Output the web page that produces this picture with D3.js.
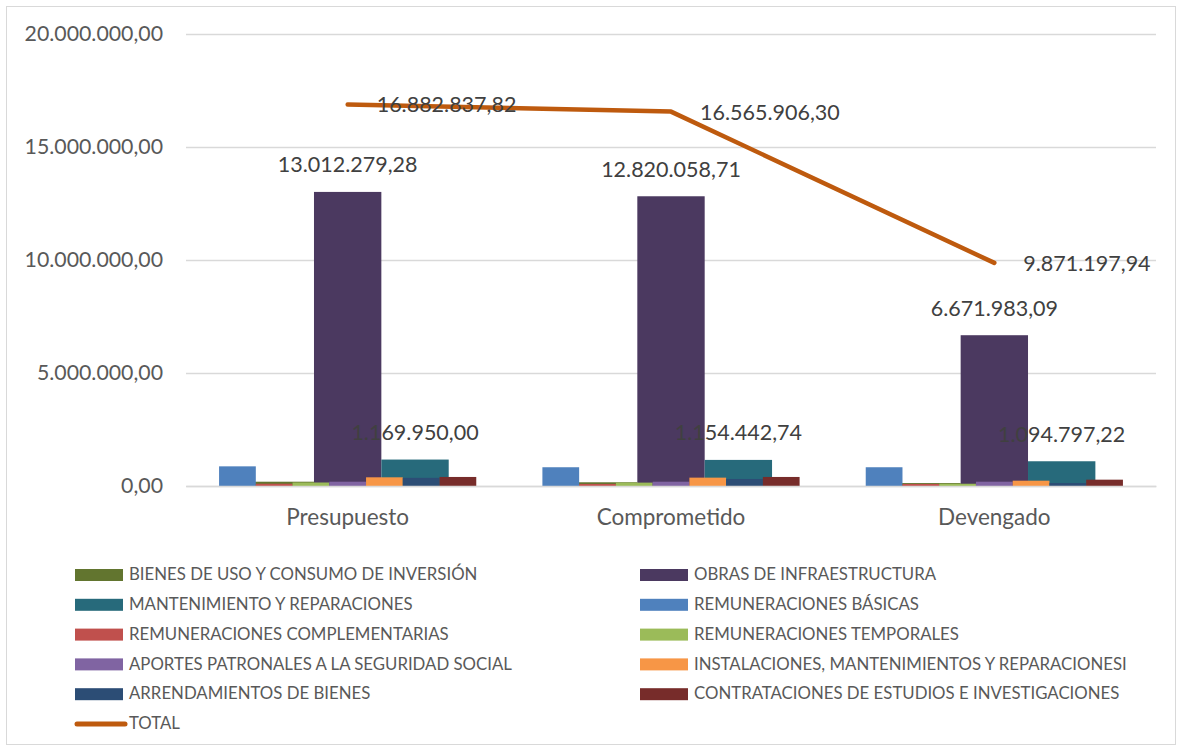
<!DOCTYPE html>
<html>
<head>
<meta charset="utf-8">
<script src="https://cdn.jsdelivr.net/npm/d3@7"></script>
<style>
  body { margin: 0; background: #fff; }
  text { font-family: Lato, "Open Sans", sans-serif; }
</style>
</head>
<body>
<div id="chart"></div>
<script>
// data
var categories = ["Presupuesto", "Comprometido", "Devengado"];
var bienesUso = [190000, 165000, 130000];
var obras = [13012279.28, 12820058.71, 6671983.09];
var mantenimiento = [1169950.00, 1154442.74, 1094797.22];
var remBasicas = [870000, 830000, 830000];
var remComplementarias = [100000, 90000, 90000];
var remTemporales = [155000, 150000, 100000];
var aportes = [190000, 190000, 190000];
var instalaciones = [385000, 370000, 235000];
var arrendamientos = [360000, 310000, 130000];
var contrataciones = [400000, 400000, 280000];
var total = [16882837.82, 16565906.30, 9871197.94];
var yTicks = [0, 5000000, 10000000, 15000000, 20000000];

// series on the "secondary" cluster (wide bars) and the primary cluster (narrow bars)
var secondary = [
    {name: "BIENES DE USO Y CONSUMO DE INVERSIÓN", values: bienesUso, color: "#62752F"},
    {name: "OBRAS DE INFRAESTRUCTURA", values: obras, color: "#4B3960", label: true},
    {name: "MANTENIMIENTO Y REPARACIONES", values: mantenimiento, color: "#276A7B", label: true}
];
var primary = [
    {name: "REMUNERACIONES BÁSICAS", values: remBasicas, color: "#4F81BD"},
    {name: "REMUNERACIONES COMPLEMENTARIAS", values: remComplementarias, color: "#C0504D"},
    {name: "REMUNERACIONES TEMPORALES", values: remTemporales, color: "#9BBB59"},
    {name: "APORTES PATRONALES A LA SEGURIDAD SOCIAL", values: aportes, color: "#8064A2"},
    {name: "INSTALACIONES, MANTENIMIENTOS Y REPARACIONESI", values: instalaciones, color: "#F79646"},
    {name: "ARRENDAMIENTOS DE BIENES", values: arrendamientos, color: "#2C4D75"},
    {name: "CONTRATACIONES DE ESTUDIOS E INVESTIGACIONES", values: contrataciones, color: "#772C2A"}
];
var totalColor = "#BE5A0E";

var legendOrder = [
    "BIENES DE USO Y CONSUMO DE INVERSIÓN", "OBRAS DE INFRAESTRUCTURA",
    "MANTENIMIENTO Y REPARACIONES", "REMUNERACIONES BÁSICAS",
    "REMUNERACIONES COMPLEMENTARIAS", "REMUNERACIONES TEMPORALES",
    "APORTES PATRONALES A LA SEGURIDAD SOCIAL", "INSTALACIONES, MANTENIMIENTOS Y REPARACIONESI",
    "ARRENDAMIENTOS DE BIENES", "CONTRATACIONES DE ESTUDIOS E INVESTIGACIONES",
    "TOTAL"
];

var locale = d3.formatLocale({decimal: ",", thousands: ".", grouping: [3], currency: ["", ""]});
var fmt = locale.format(",.2f");

var width = 1182, height = 751;
var svg = d3.select("#chart").append("svg")
    .attr("width", width)
    .attr("height", height);

// chart border
svg.append("rect")
    .attr("x", 6.5).attr("y", 6.5)
    .attr("width", 1169).attr("height", 738)
    .attr("fill", "none")
    .attr("stroke", "#d9d9d9");

var x = d3.scaleBand().domain(categories).range([186, 1156]);
var y = d3.scaleLinear().domain([0, 20000000]).range([486, 34]);

var gap = 1.8; // excel gap width
var W = x.bandwidth();
function subBand(list) {
    var inner = W * list.length / (list.length + gap);
    var off = (W - inner) / 2;
    return d3.scaleBand().domain(list.map(function(d){ return d.name; })).range([off, off + inner]);
}
var xs = subBand(secondary);
var xp = subBand(primary);

// gridlines
svg.append("g").selectAll("line")
    .data(yTicks)
    .enter().append("line")
    .attr("x1", 186).attr("x2", 1156)
    .attr("y1", function(d){ return Math.round(y(d)) + 0.5; })
    .attr("y2", function(d){ return Math.round(y(d)) + 0.5; })
    .attr("stroke", "#d9d9d9")
    .attr("stroke-width", 1.5);

// y axis labels
var yAxis = svg.append("g")
    .attr("transform", "translate(186,0)")
    .call(d3.axisLeft(y).tickValues(yTicks).tickFormat(fmt).tickSize(0).tickPadding(23));
yAxis.select(".domain").remove();
yAxis.selectAll("text")
    .attr("fill", "#595959")
    .style("font-size", "21.3px")
    .style("font-family", "Lato, sans-serif");

// bars: wide cluster first, narrow cluster drawn on top
function drawBars(list, sub) {
    list.forEach(function(s) {
        svg.append("g").selectAll("rect")
            .data(s.values)
            .enter().append("rect")
            .attr("x", function(d, i){ return x(categories[i]) + sub(s.name); })
            .attr("width", sub.bandwidth())
            .attr("y", function(d){ return y(d); })
            .attr("height", function(d){ return y(0) - y(d); })
            .attr("fill", s.color);
    });
}
drawBars(secondary, xs);
drawBars(primary, xp);

// x axis
var xAxis = svg.append("g")
    .attr("transform", "translate(0," + y(0) + ")")
    .call(d3.axisBottom(x).tickSize(0).tickPadding(23));
xAxis.select(".domain").attr("stroke", "#d9d9d9").attr("stroke-width", 1.5);
xAxis.selectAll("text")
    .attr("fill", "#595959")
    .style("font-size", "22.5px")
    .style("font-family", "Lato, sans-serif");

// bar labels
secondary.filter(function(s){ return s.label; }).forEach(function(s) {
    svg.append("g").selectAll("text")
        .data(s.values)
        .enter().append("text")
        .attr("x", function(d, i){ return x(categories[i]) + xs(s.name) + xs.bandwidth() / 2; })
        .attr("y", function(d){ return y(d) - 25; })
        .attr("text-anchor", "middle")
        .attr("dominant-baseline", "middle")
        .attr("fill", "#404040")
        .style("font-size", "21.5px")
        .text(function(d){ return fmt(d); });
});

// total line
var line = d3.line()
    .x(function(d, i){ return x(categories[i]) + W / 2; })
    .y(function(d){ return y(d); });
svg.append("path")
    .datum(total)
    .attr("d", line)
    .attr("fill", "none")
    .attr("stroke", totalColor)
    .attr("stroke-width", 4.5)
    .attr("stroke-linecap", "round")
    .attr("stroke-linejoin", "round");

svg.append("g").selectAll("text")
    .data(total)
    .enter().append("text")
    .attr("x", function(d, i){ return x(categories[i]) + W / 2 + 29; })
    .attr("y", function(d){ return y(d) + 2.5; })
    .attr("dominant-baseline", "middle")
    .attr("fill", "#404040")
    .style("font-size", "21.5px")
    .text(function(d){ return fmt(d); });

// legend
var colorOf = {};
secondary.concat(primary).forEach(function(s){ colorOf[s.name] = s.color; });
var legend = svg.append("g");
legendOrder.forEach(function(name, i) {
    var col = i % 2, row = Math.floor(i / 2);
    var lx = col === 0 ? 75 : 640;
    var ly = 575 + row * 29.8;
    if (name === "TOTAL") {
        legend.append("line")
            .attr("x1", 77).attr("x2", 125)
            .attr("y1", ly).attr("y2", ly)
            .attr("stroke", totalColor)
            .attr("stroke-width", 5)
            .attr("stroke-linecap", "round");
    } else {
        legend.append("rect")
            .attr("x", lx).attr("y", ly - 6)
            .attr("width", 48).attr("height", 12)
            .attr("fill", colorOf[name]);
    }
    legend.append("text")
        .attr("x", lx + 54)
        .attr("y", ly + 1)
        .attr("dominant-baseline", "middle")
        .attr("fill", "#595959")
        .style("font-size", "16.8px")
        .text(name);
});
</script>
</body>
</html>
